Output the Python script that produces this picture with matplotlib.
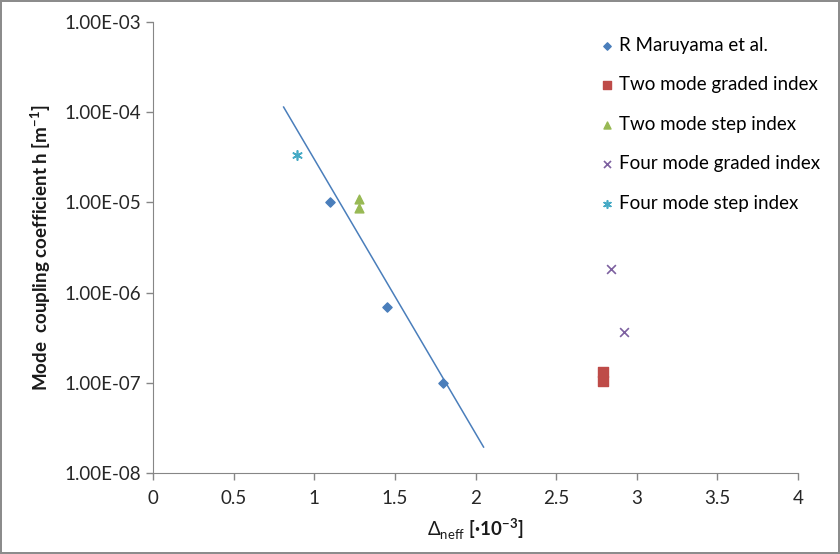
import matplotlib
matplotlib.use("Agg")
import matplotlib.pyplot as plt
from matplotlib.ticker import FixedLocator, FuncFormatter
import numpy as np

plt.rcParams["font.family"] = ["Lato", "DejaVu Sans"]
plt.rcParams["mathtext.fontset"] = "custom"
plt.rcParams["mathtext.rm"] = "Lato"
plt.rcParams["mathtext.bf"] = "Lato:bold"

# data
maruyama_x = [1.1, 1.45, 1.8]
maruyama_y = [1.0e-5, 7.0e-7, 1.0e-7]
two_graded_x = [2.79, 2.79]
two_graded_y = [1.32e-7, 1.06e-7]
two_step_x = [1.28, 1.28]
two_step_y = [1.09e-5, 8.7e-6]
four_graded_x = [2.84, 2.92]
four_graded_y = [1.82e-6, 3.65e-7]
four_step_x = [0.89]
four_step_y = [3.35e-5]
trend_x = [0.81, 2.05]
trend_y = [1.14e-4, 1.94e-8]

y_ticks = [1e-8, 1e-7, 1e-6, 1e-5, 1e-4, 1e-3]
x_ticks = [0, 0.5, 1, 1.5, 2, 2.5, 3, 3.5, 4]

fig = plt.figure(figsize=(8.4, 5.54), dpi=100)
fig.patch.set_edgecolor("#8c8c8c")
fig.patch.set_linewidth(1.5)
ax = fig.add_axes([153 / 840, 1 - 473 / 554, 645 / 840, 451 / 554])

ax.plot(trend_x, trend_y, color="#4a7ebb", lw=1.1, zorder=1)
ax.scatter(maruyama_x, maruyama_y, marker="D", s=22, color="#4a7ebb", label="R Maruyama et al.", zorder=3)
ax.scatter(two_graded_x, two_graded_y, marker="s", s=50, color="#be4b48", label="Two mode graded index", zorder=3)
ax.scatter(two_step_x, two_step_y, marker="^", s=40, color="#98b954", label="Two mode step index", zorder=3)
ax.scatter(four_graded_x, four_graded_y, marker="x", s=40, color="#7d60a0", linewidths=1.2, label="Four mode graded index", zorder=3)
ax.scatter(four_step_x, four_step_y, marker=(6, 2, 0), s=45, color="#46aac5", linewidths=1.2, label="Four mode step index", zorder=3)

ax.set_yscale("log")
ax.set_ylim(1e-8, 1e-3)
ax.set_xlim(0, 4)
ax.yaxis.set_major_locator(FixedLocator(y_ticks))
ax.yaxis.set_minor_locator(FixedLocator([]))
ax.yaxis.set_major_formatter(FuncFormatter(lambda v, p: "%.2E" % v))
ax.set_xticks(x_ticks)
ax.set_xticklabels(["0", "0.5", "1", "1.5", "2", "2.5", "3", "3.5", "4"])

for s in ["top", "right"]:
    ax.spines[s].set_visible(False)
for s in ["left", "bottom"]:
    ax.spines[s].set_color("#868686")
ax.tick_params(axis="both", colors="#868686", labelcolor="#262626", labelsize=13.5, length=5, width=1)
ax.tick_params(axis="x", pad=7)

ax.set_ylabel("Mode  coupling coefficient h [m$^{\\mathbf{-1}}$]", fontsize=13.5, fontweight="bold", color="#1a1a1a", labelpad=8)
ax.set_xlabel("$\\Delta_{\\mathrm{neff}}$ [·10$^{\\mathbf{-3}}$]", fontsize=13.5, fontweight="bold", color="#1a1a1a", labelpad=7)

ax.legend(loc="upper left", bbox_to_anchor=(0.675, 0.988), frameon=False, fontsize=13.5,
          labelspacing=1.2, handlelength=1.0, handletextpad=0.15, markerscale=0.8, borderpad=0)

fig.savefig("out.png", dpi=100)
